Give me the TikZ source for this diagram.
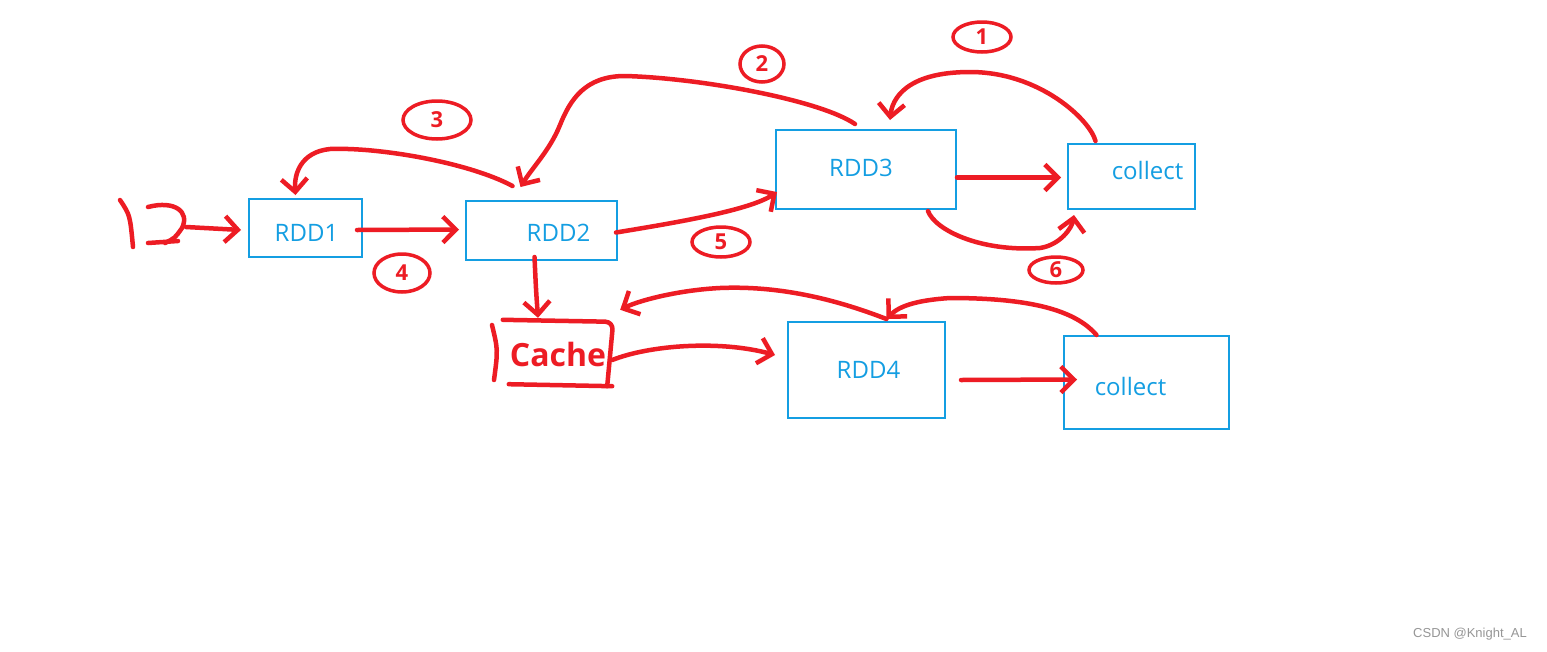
\documentclass[tikz,border=0pt]{standalone}
\usepackage{fontspec}
\setmainfont{Open Sans}
\newfontfamily\wmfont{Liberation Sans}
\usetikzlibrary{arrows.meta,calc,shapes.geometric}
\definecolor{boxblue}{RGB}{20,158,226}
\definecolor{penred}{RGB}{237,28,36}
\definecolor{wmgray}{RGB}{150,150,150}
\tikzset{
  box/.style={draw=boxblue, line width=2pt, inner sep=0pt, text=boxblue, font=\fontsize{24}{28}\selectfont},
  pen/.style={draw=penred, line width=4.5pt, line cap=round, line join=round},
  arr/.style={pen, -{Straight Barb[length=13pt,width=26pt,line width=4.5pt]}},
  circnum/.style={draw=penred, line width=3.5pt, ellipse, inner sep=0pt, text=penred, font=\fontsize{22}{22}\selectfont\bfseries},
}
\begin{document}
\begin{tikzpicture}[x=1pt,y=-1pt]
\useasboundingbox[fill=white] (0,0) rectangle (1547,651);
% boxes
\node[box, minimum width=113pt, minimum height=58pt] (rdd1) at (305.5,228) {};
\node[box, minimum width=151pt, minimum height=59pt] (rdd2) at (541.5,230.5) {};
\node[box, minimum width=180pt, minimum height=79pt] (rdd3) at (866,169.5) {};
\node[box, minimum width=127pt, minimum height=65pt] (col1) at (1131.5,176.5) {};
\node[box, minimum width=157pt, minimum height=96pt] (rdd4) at (866.5,370) {};
\node[box, minimum width=165pt, minimum height=93pt] (col2) at (1146.5,382.5) {};
\node[box, draw=none, anchor=center] at ($(rdd1)+(1,5)$) {RDD1};
\node[box, draw=none, anchor=center] at ($(rdd2)+(17,2)$) {RDD2};
\node[box, draw=none, anchor=center] at ($(rdd3)+(-5,-2)$) {RDD3};
\node[box, draw=none, anchor=center] at ($(col1)+(16,-6)$) {collect};
\node[box, draw=none, anchor=center] at ($(rdd4)+(2,0)$) {RDD4};
\node[box, draw=none, anchor=center] at ($(col2)+(-16,4)$) {collect};
% cache
\node[inner sep=0pt, minimum width=110pt, minimum height=64pt, text=penred, font=\fontsize{32}{34}\selectfont\bfseries] (cache) at (558,354) {Cache};
\draw[pen, rounded corners=8pt] ($(cache.north west)+(0,-2)$) -- (cache.north east) -- ($(cache.south east)+(-6,0)$);
\draw[pen] ($(cache.south west)+(6,-2)$) -- ($(cache.south east)+(-1,0)$);
\draw[pen] (492,325) .. controls (498,350) .. (494,380);
% start mark
\draw[pen] (120,200) .. controls (130,215) .. (133,247);
\draw[pen] (148,207) .. controls (175,200) and (190,212) .. (182,228) .. controls (175,238) .. (165,243);
\draw[pen] (148,243) -- (178,241);
\coordinate (src) at (186,227);
% connectors
\draw[arr] (src) -- ($(rdd1.west)+(-7,2)$);
\draw[arr] ($(rdd1.east)+(-6,2)$) -- ($(rdd2.west)+(-6,-1)$);
\draw[arr] ($(rdd2.north)+(-29,-14)$) .. controls (470,163) and (380,147) .. (330,149) .. controls (300,152) and (294,175) .. ($(rdd1.north)+(-10,-3)$);
\draw[arr] ($(rdd3.north)+(-11,-5)$) .. controls (820,100) and (700,78) .. (625,76) .. controls (585,76) and (570,100) .. (560,125) .. controls (550,150) and (532,168) .. ($(rdd2.north)+(-21,-13)$);
\draw[arr] ($(rdd2.east)+(-2,2)$) .. controls (680,222) and (750,210) .. ($(rdd3.south west)+(2,-18)$);
\draw[arr] ($(rdd3.east)+(0,8)$) -- ($(col1.west)+(-6,1)$);
\draw[arr] ($(col1.north)+(-36,-2)$) .. controls (1090,120) and (1040,72) .. (970,72) .. controls (905,72) and (892,100) .. ($(rdd3.north)+(24,-9)$);
\draw[arr] ($(rdd3.south)+(62,1)$) .. controls (935,230) and (980,252) .. (1040,248) .. controls (1060,245) and (1072,228) .. ($(col1.south west)+(7,5)$);
\draw[arr] ($(rdd2.south)+(-7,-4)$) .. controls (536,290) .. ($(cache.north)+(-20,-4)$);
\draw[arr] ($(rdd4.north)+(20,-2)$) .. controls (850,305) and (790,285) .. (720,288) .. controls (680,290) and (640,300) .. ($(cache.north east)+(7,-12)$);
\draw[arr] ($(cache.east)+(-1,6)$) .. controls (650,345) and (720,340) .. ($(rdd4.west)+(-12,-15)$);
\draw[arr] ($(col2.north)+(-50,0)$) .. controls (1075,310) and (1030,298) .. (950,298) .. controls (920,300) and (900,305) .. ($(rdd4.north)+(20,-2)$);
\draw[arr] ($(rdd4.east)+(15,10)$) -- ($(col2.west)+(14,-3)$);
% step numbers
\node[circnum, minimum width=68pt, minimum height=38pt] (n3) at (437,120) {3};
\node[circnum, minimum width=44pt, minimum height=36pt] (n2) at (762,64) {2};
\node[circnum, minimum width=58pt, minimum height=30pt] (n1) at (982,37) {1};
\node[circnum, minimum width=56pt, minimum height=38pt] (n4) at (402,273) {4};
\node[circnum, minimum width=58pt, minimum height=30pt] (n5) at (721,242) {5};
\node[circnum, minimum width=54pt, minimum height=26pt] (n6) at (1056,270) {6};
% watermark
\node[text=wmgray, font=\wmfont\fontsize{13}{14}\selectfont] (wm) at (1470,634) {CSDN @Knight\_AL};
\end{tikzpicture}
\end{document}
